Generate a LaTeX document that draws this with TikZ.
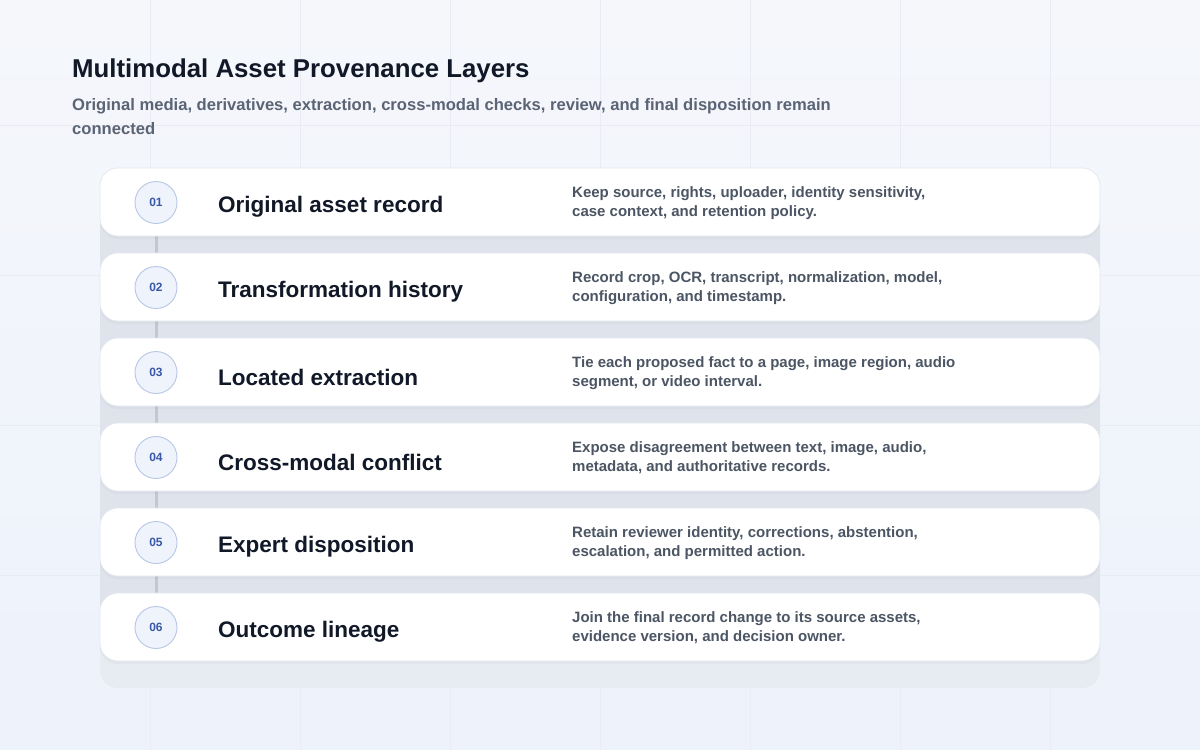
\documentclass[tikz,border=0pt]{standalone}
\usepackage{fontspec}
\setmainfont{Liberation Sans}
\usetikzlibrary{shadows}
\definecolor{bgtop}{HTML}{F5F7FB}
\definecolor{bgbot}{HTML}{EDF2FB}
\definecolor{gridc}{HTML}{E9EDF3}
\definecolor{panelc}{HTML}{DFE3EC}
\definecolor{panelbot}{HTML}{E7EBF2}
\definecolor{cardline}{HTML}{E3E7EE}
\definecolor{ringfill}{HTML}{EEF3FC}
\definecolor{ringline}{HTML}{B7C7E5}
\definecolor{numc}{HTML}{3A58A8}
\definecolor{linkc}{HTML}{C3C7CF}
\definecolor{inkc}{HTML}{111827}
\definecolor{subc}{HTML}{5A6475}
\definecolor{descc}{HTML}{4B5563}
\pgfdeclarelayer{back}
\pgfdeclarelayer{links}
\pgfsetlayers{back,links,main}

\begin{document}
\begin{tikzpicture}[x=1pt,y=-1pt,
  card/.style={draw=cardline,line width=0.6pt,fill=white,rounded corners=18pt,minimum width=1000pt,minimum height=68pt,inner sep=0pt,
    drop shadow={opacity=0.06,shadow xshift=0pt,shadow yshift=-3pt}},
  num/.style={circle,draw=ringline,line width=0.9pt,fill=ringfill,minimum size=42pt,inner sep=0pt,text=numc,font=\fontsize{12}{14}\bfseries\selectfont},
  stage/.style={anchor=west,inner sep=0pt,text=inkc,font=\fontsize{22.5}{27}\bfseries\selectfont},
  desc/.style={anchor=west,inner sep=0pt,align=left,text=descc,font=\fontsize{15}{19}\bfseries\selectfont},
  link/.style={draw=linkc,line width=3pt}]
\useasboundingbox (0,0) rectangle (1200,750);

% background and faint grid
\begin{pgfonlayer}{back}
\shade[top color=bgtop,bottom color=bgbot] (0,0) rectangle (1200,750);
\draw[gridc,line width=0.6pt] (150,0) -- (150,750) (300,0) -- (300,750) (450,0) -- (450,750)
  (600,0) -- (600,750) (750,0) -- (750,750) (900,0) -- (900,750) (1050,0) -- (1050,750)
  (0,125) -- (1200,125) (0,275) -- (1200,275) (0,425) -- (1200,425) (0,575) -- (1200,575);
\fill[panelbot,rounded corners=18pt] (100,172) rectangle (1100,688);
\fill[panelc] (100,180) rectangle (1100,650);
\end{pgfonlayer}

% heading
\node (title) [anchor=west,inner sep=0pt,text=inkc,font=\fontsize{25.8}{30}\bfseries\selectfont] at (72,71) {Multimodal Asset Provenance Layers};
\node (sub) [anchor=north west,inner sep=0pt,align=left,text=subc,font=\fontsize{16.6}{24}\bfseries\selectfont] at (72,98)
  {Original media, derivatives, extraction, cross-modal checks, review, and final disposition remain\\connected};

% cards
\node (card1) [card] at (600,202) {};
\node (card2) [card] at (600,287) {};
\node (card3) [card] at (600,372) {};
\node (card4) [card] at (600,457) {};
\node (card5) [card] at (600,542) {};
\node (card6) [card] at (600,627) {};

\node (num1) [num] at (156,202.5) {01};
\node (num2) [num] at (156,287.5) {02};
\node (num3) [num] at (156,372.5) {03};
\node (num4) [num] at (156,457.5) {04};
\node (num5) [num] at (156,542.5) {05};
\node (num6) [num] at (156,627.5) {06};

\node (name1) [stage] at (218,207) {Original asset record};
\node (name2) [stage] at (218,292) {Transformation history};
\node (name3) [stage] at (218,377) {Located extraction};
\node (name4) [stage] at (218,462) {Cross-modal conflict};
\node (name5) [stage] at (218,547) {Expert disposition};
\node (name6) [stage] at (218,632) {Outcome lineage};

\node (text1) [desc] at (572,203) {Keep source, rights, uploader, identity sensitivity,\\case context, and retention policy.};
\node (text2) [desc] at (572,288) {Record crop, OCR, transcript, normalization, model,\\configuration, and timestamp.};
\node (text3) [desc] at (572,373) {Tie each proposed fact to a page, image region, audio\\segment, or video interval.};
\node (text4) [desc] at (572,458) {Expose disagreement between text, image, audio,\\metadata, and authoritative records.};
\node (text5) [desc] at (572,543) {Retain reviewer identity, corrections, abstention,\\escalation, and permitted action.};
\node (text6) [desc] at (572,628) {Join the final record change to its source assets,\\evidence version, and decision owner.};

% spine between the steps
\begin{pgfonlayer}{links}
\draw[link] (num1) -- (num2);
\draw[link] (num2) -- (num3);
\draw[link] (num3) -- (num4);
\draw[link] (num4) -- (num5);
\draw[link] (num5) -- (num6);
\end{pgfonlayer}
\end{tikzpicture}
\end{document}
